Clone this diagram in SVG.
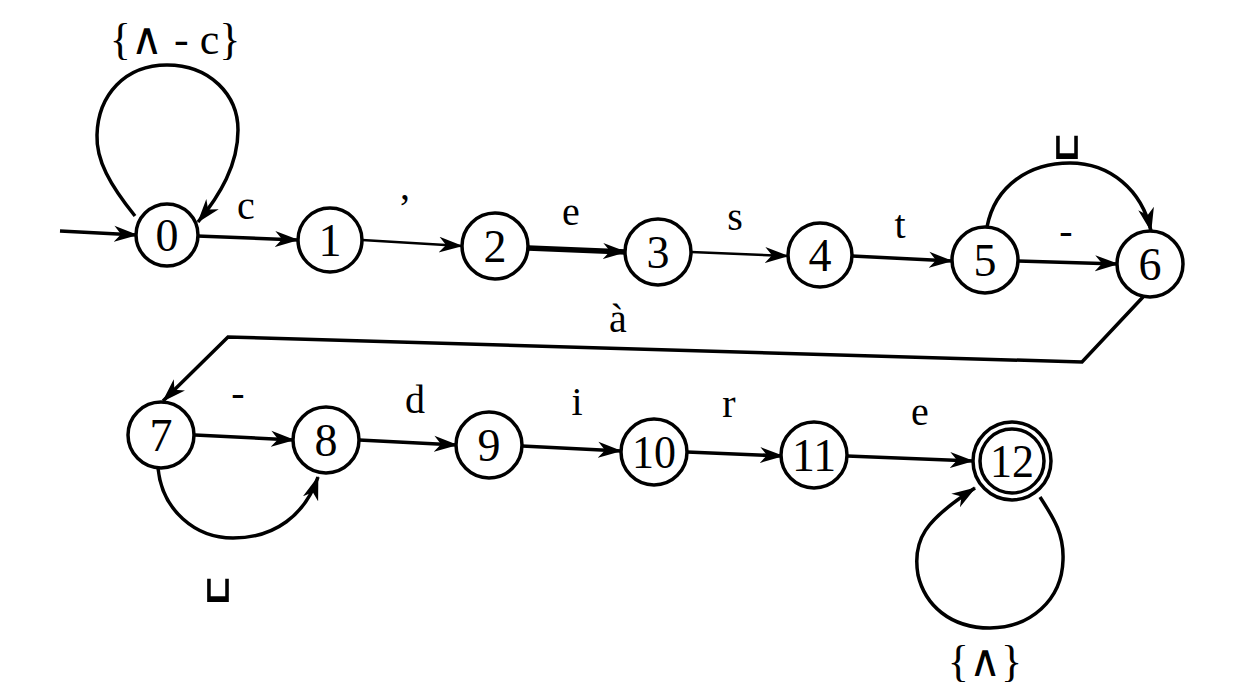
<svg xmlns="http://www.w3.org/2000/svg" width="1248" height="700" viewBox="0 0 1248 700">
<defs>
<marker id="arr" markerUnits="userSpaceOnUse" markerWidth="26" markerHeight="18" refX="23" refY="9" orient="auto">
<path d="M0,1 L24,9 L0,17 L7,9 z" fill="#000"/>
</marker>
<style>
.node circle{fill:#fff;stroke:#000;stroke-width:3.5}
.node text{font-family:"Liberation Serif","DejaVu Serif",serif;font-size:46px;text-anchor:middle;fill:#000}
.edges path,.edges line{fill:none;stroke:#000;stroke-width:3.5;marker-end:url(#arr)}
.lbl{font-family:"Liberation Serif","DejaVu Serif",serif;font-size:40px;text-anchor:middle;fill:#000}
.sp{font-family:"DejaVu Sans",sans-serif;font-size:44px;text-anchor:middle;fill:#000}
</style>
</defs>
<rect width="1248" height="700" fill="#fff"/>
<g class="edges">
<line x1="60" y1="231" x2="137" y2="235"/>
<path d="M135,216 C110,185 96,160 97,135 C98,95 125,65 167,65 C210,65 238,95 238,130 C238,165 220,195 198,222"/>
<line x1="197" y1="236" x2="298" y2="240"/>
<line x1="362" y1="240" x2="462" y2="246" style="stroke-width:2.5"/>
<line x1="528" y1="248" x2="626" y2="252" style="stroke-width:5.5"/>
<line x1="691" y1="252" x2="788" y2="256" style="stroke-width:2.5"/>
<line x1="852" y1="256" x2="952" y2="261"/>
<line x1="1018" y1="261" x2="1118" y2="264"/>
<path d="M987,227 C995,185 1030,163 1070,163 C1110,163 1142,190 1151,231"/>
<path d="M1143,297 L1082,362 L228,337 L163,401"/>
<line x1="195" y1="435" x2="294" y2="440"/>
<path d="M158,468 C162,510 195,538 233,538 C275,538 305,515 318,477"/>
<line x1="359" y1="440" x2="457" y2="445"/>
<line x1="522" y1="446" x2="621" y2="451"/>
<line x1="687" y1="452" x2="783" y2="456"/>
<line x1="847" y1="456" x2="973" y2="461"/>
<path d="M1040,497 C1055,520 1064,535 1063,560 C1062,600 1030,628 990,628 C950,628 925,605 918,575 C912,540 925,520 975,488"/>
</g>
<g id="labels">
<text class="lbl" x="175" y="54" style="font-size:44px">{∧ - c}</text>
<text class="lbl" x="246" y="219">c</text>
<text class="lbl" x="405" y="199">,</text>
<text class="lbl" x="571" y="225">e</text>
<text class="lbl" x="735" y="230">s</text>
<text class="lbl" x="900" y="238">t</text>
<text class="lbl" x="1066" y="244">-</text>
<text class="sp" transform="translate(1067,143) scale(1,1.6)">␣</text>
<text class="lbl" x="618" y="332">à</text>
<text class="lbl" x="238" y="406">-</text>
<text class="sp" transform="translate(218,586) scale(1,1.6)">␣</text>
<text class="lbl" x="415" y="413">d</text>
<text class="lbl" x="577" y="415">i</text>
<text class="lbl" x="729" y="417">r</text>
<text class="lbl" x="920" y="425">e</text>
<text class="lbl" x="985" y="676" style="font-size:44px">{∧}</text>
</g>
<g id="n0" class="node"><circle cx="167" cy="235" r="31"/><text x="167" y="251">0</text></g>
<g id="n1" class="node"><circle cx="330" cy="240" r="32"/><text x="330" y="256">1</text></g>
<g id="n2" class="node"><circle cx="495" cy="246" r="33"/><text x="495" y="262">2</text></g>
<g id="n3" class="node"><circle cx="658" cy="252" r="33"/><text x="658" y="268">3</text></g>
<g id="n4" class="node"><circle cx="820" cy="255" r="32"/><text x="820" y="271">4</text></g>
<g id="n5" class="node"><circle cx="985" cy="260" r="33"/><text x="985" y="276">5</text></g>
<g id="n6" class="node"><circle cx="1150" cy="264" r="33"/><text x="1150" y="280">6</text></g>
<g id="n7" class="node"><circle cx="161" cy="435" r="33"/><text x="161" y="451">7</text></g>
<g id="n8" class="node"><circle cx="326" cy="440" r="33"/><text x="326" y="456">8</text></g>
<g id="n9" class="node"><circle cx="489" cy="445" r="33"/><text x="489" y="461">9</text></g>
<g id="n10" class="node"><circle cx="654" cy="452" r="33"/><text x="654" y="468" textLength="44" lengthAdjust="spacingAndGlyphs">10</text></g>
<g id="n11" class="node"><circle cx="814" cy="455" r="33"/><text x="814" y="471" textLength="44" lengthAdjust="spacingAndGlyphs">11</text></g>
<g id="n12" class="node"><circle cx="1012" cy="461" r="39"/><circle cx="1012" cy="461" r="32"/><text x="1012" y="477" textLength="44" lengthAdjust="spacingAndGlyphs">12</text></g>
</svg>
